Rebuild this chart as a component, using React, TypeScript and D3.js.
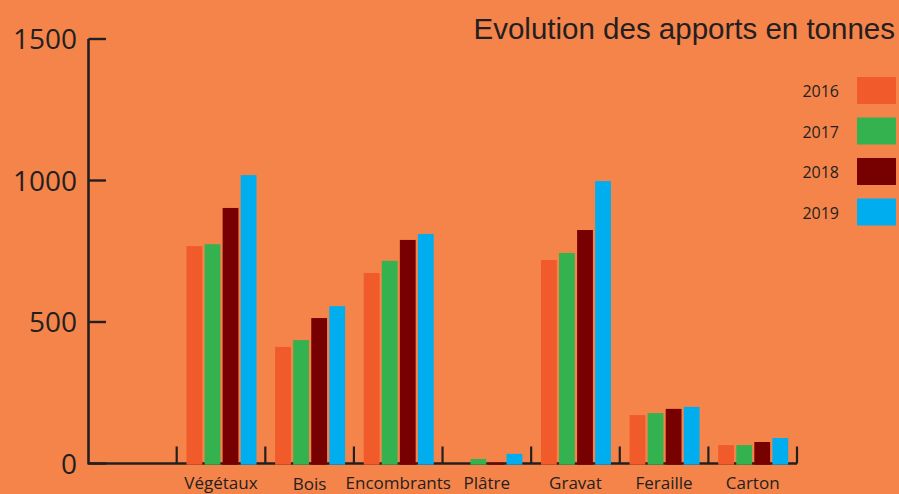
import React from 'react';
import * as d3 from 'd3';

const categories = ['Végétaux', 'Bois', 'Encombrants', 'Plâtre', 'Gravat', 'Feraille', 'Carton'];
const years = ['2016', '2017', '2018', '2019'];
const values2016 = [768, 412, 673, 0, 719, 171, 65];
const values2017 = [775, 436, 716, 16, 744, 178, 65];
const values2018 = [903, 514, 790, 3, 825, 193, 76];
const values2019 = [1019, 556, 811, 34, 998, 200, 90];
const yTicks = [0, 500, 1000, 1500];
const colors = ['#f15a2b', '#34b250', '#770000', '#00aeef'];

const series = [values2016, values2017, values2018, values2019];

const W = 899;
const H = 494;
const BG = '#f5844a';
const INK = '#231f20';

const App = () => {
  // the y axis sits one empty band before the first category
  const axisX = 88.5;
  const y = d3.scaleLinear().domain([0, 1500]).range([463.5, 39]);
  const x = d3.scaleBand().domain(categories).range([176.7, 797]);
  const groupW = 70;
  const off = (x.bandwidth() - groupW) / 2 + 0.5;
  const xInner = d3.scaleBand().domain(years).range([off, off + groupW]).paddingInner(0.125);

  const legendY = d3.scaleBand().domain(years).range([77, 239]);

  return (
    <svg width={W} height={H} style={{ position: 'absolute', left: 0, top: 0, display: 'block' }}>
      <rect width={W} height={H} fill={BG} />

      {/* title */}
      <text x={895} y={39} textAnchor="end" fontFamily="'Liberation Sans', Arial, sans-serif"
        fontSize={29.5} fill={INK}>Evolution des apports en tonnes</text>

      {/* y axis */}
      <line x1={axisX} x2={axisX} y1={y(1500)} y2={y(0)} stroke={INK} strokeWidth={2.6} />
      {yTicks.map(t => (
        <g key={t}>
          <line x1={axisX} x2={106} y1={y(t)} y2={y(t)} stroke={INK} strokeWidth={2.4} />
          <text x={77} y={y(t) + 10} textAnchor="end" fontFamily="'Open Sans', sans-serif"
            fontSize={28} fill={INK}>{t}</text>
        </g>
      ))}

      {/* baseline and category ticks */}
      <line x1={axisX - 1} x2={797} y1={y(0)} y2={y(0)} stroke={INK} strokeWidth={2.4} />
      {[...categories.map(c => x(c)), 797].map((px, i) => (
        <line key={i} x1={px} x2={px} y1={y(0)} y2={y(0) - 17} stroke={INK} strokeWidth={2.2} />
      ))}

      {/* bars */}
      {categories.map((c, ci) => (
        <g key={c} transform={`translate(${x(c)},0)`}>
          {series.map((s, si) => (
            s[ci] > 0 ? (
              <rect key={si} x={xInner(years[si])} width={xInner.bandwidth()}
                y={y(s[ci])} height={y(0) - y(s[ci]) + 1.2} fill={colors[si]} />
            ) : null
          ))}
        </g>
      ))}

      {/* category labels */}
      {categories.map(c => (
        <text key={c} x={x(c) + x.bandwidth() / 2} y={c === 'Bois' ? 490 : 489} textAnchor="middle"
          fontFamily="'Open Sans', sans-serif" fontSize={17} fill={INK}>{c}</text>
      ))}

      {/* legend */}
      {years.map((yr, i) => (
        <g key={yr}>
          <text x={839} y={legendY(yr) + 20} textAnchor="end" fontFamily="'Open Sans', sans-serif"
            fontSize={16} fill={INK}>{yr}</text>
          <rect x={857} y={legendY(yr)} width={39} height={27} fill={colors[i]} />
        </g>
      ))}
    </svg>
  );
};

export default App;
